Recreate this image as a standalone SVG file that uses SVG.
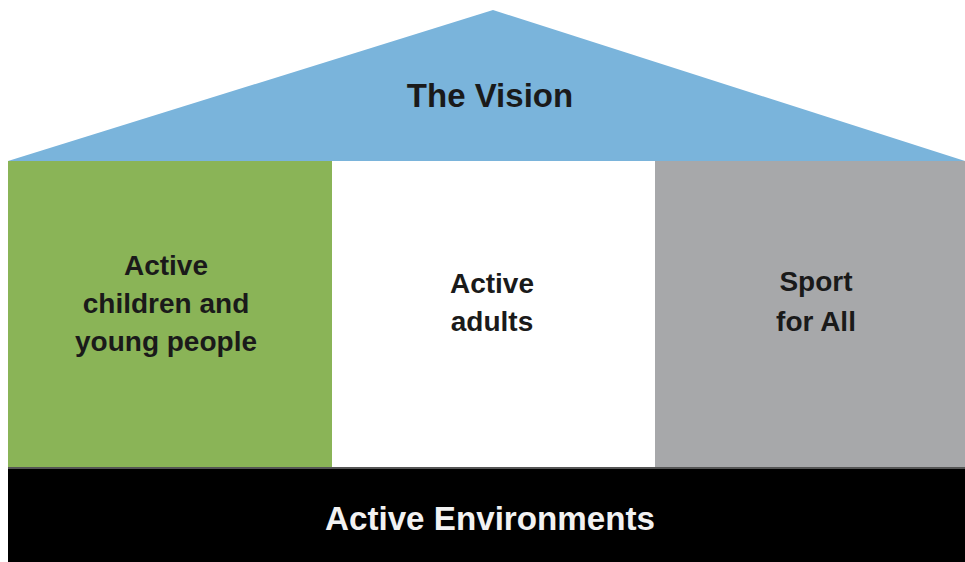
<svg xmlns="http://www.w3.org/2000/svg" width="965" height="562" viewBox="0 0 965 562">
<style>
.lbl{font-family:"Liberation Sans",Arial,sans-serif;font-weight:bold;text-anchor:middle;fill:#1a1a1a}
.panel{font-size:28px}
</style>
<rect x="0" y="0" width="965" height="562" fill="#ffffff"/>
<g id="roof">
<polygon points="8,161 493,10 965,161" fill="#7ab4db"/>
<text class="lbl" x="490" y="107" font-size="33">The Vision</text>
</g>
<g id="children">
<rect x="8" y="161" width="324" height="307" fill="#8ab457"/>
<text class="lbl panel" x="166" y="275">Active</text>
<text class="lbl panel" x="166" y="313">children and</text>
<text class="lbl panel" x="166" y="351">young people</text>
</g>
<g id="adults">
<rect x="332" y="161" width="323" height="307" fill="#ffffff"/>
<text class="lbl panel" x="492" y="293">Active</text>
<text class="lbl panel" x="492" y="331">adults</text>
</g>
<g id="sport">
<rect x="655" y="161" width="310" height="307" fill="#a7a8aa"/>
<text class="lbl panel" x="816" y="291">Sport</text>
<text class="lbl panel" x="816" y="331">for All</text>
</g>
<g id="environments">
<rect x="8" y="467" width="957" height="2" fill="#555555"/>
<rect x="8" y="469" width="957" height="93" fill="#000000"/>
<text class="lbl" x="490" y="530" font-size="34" fill="#f2f2f2" style="fill:#f2f2f2" textLength="330" lengthAdjust="spacingAndGlyphs">Active Environments</text>
</g>
<g id="connectors"></g>
</svg>
